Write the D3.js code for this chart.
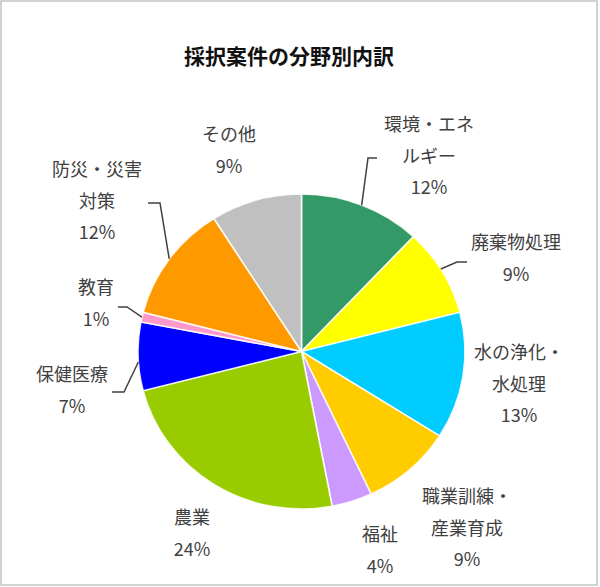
<!DOCTYPE html>
<html><head><meta charset="utf-8">
<script src="https://cdn.jsdelivr.net/npm/d3@7"></script>
<style>html,body{margin:0;padding:0;background:#fff;}</style>
</head><body>
<svg id="chart" width="600" height="587"></svg>
<script>
const title = "採択案件の分野別内訳";
const categories = ["環境・エネルギー","廃棄物処理","水の浄化・水処理","職業訓練・産業育成","福祉","農業","保健医療","教育","防災・災害対策","その他"];
const values = [12, 9, 13, 9, 4, 24, 7, 1, 12, 9];
const colors = ["#339966","#ffff00","#00ccff","#ffcc00","#cc99ff","#99cc00","#0000ff","#ff99cc","#ff9900","#c0c0c0"];
// label text lines (as shown in the chart)
const labelLines = [
  ["環境・エネ","ルギー"],
  ["廃棄物処理"],
  ["水の浄化・","水処理"],
  ["職業訓練・","産業育成"],
  ["福祉"],
  ["農業"],
  ["保健医療"],
  ["教育"],
  ["防災・災害","対策"],
  ["その他"]
];

const svg = d3.select("#chart");
svg.append("rect").attr("x",1).attr("y",1).attr("width",596).attr("height",584)
  .attr("fill","#fff").attr("stroke","#c4c4c4").attr("stroke-width",1.5);

svg.append("text").attr("x",289).attr("y",64).attr("text-anchor","middle")
  .attr("font-family","'Noto Sans CJK JP'").attr("font-weight","bold")
  .attr("font-size",21).attr("fill","#111").text(title);

const cx = 301.5, cy = 351.5, rx = 163.5, ry = 157.5;
const pie = d3.pie().sort(null).value(d => d)(values);
const arc = d3.arc().innerRadius(0).outerRadius(rx);
const g = svg.append("g").attr("transform", `translate(${cx},${cy}) scale(1,${ry/rx})`);
g.selectAll("path").data(pie).join("path")
  .attr("d", arc).attr("fill", (d,i) => colors[i])
  .attr("stroke", "#ffffff").attr("stroke-width", 1.6).attr("stroke-opacity",0.85);

// label placements (line center x, first line y)
const labelPos = [
  [429,125],[516,243],[519,353],[467,497],[380,535],[192,518],[72,375],[96,288],[97,170],[229,135]
];
const lineH = 31.5;
const lab = svg.append("g").attr("font-family","'Noto Sans CJK JP'").attr("font-size",18)
  .attr("fill","#404040").attr("text-anchor","middle");
const fmt = d3.format(".0%");
const total = d3.sum(values);
categories.forEach((c,i) => {
  const lines = labelLines[i].concat([fmt(values[i]/total)]);
  lines.forEach((t,j) => {
    lab.append("text").attr("x",labelPos[i][0]).attr("y",labelPos[i][1] + j*lineH)
      .attr("dy","0.35em").text(t);
  });
});

// leader lines: from label end to arc edge (edge point from arc angle)
function edge(i, frac) {
  const d = pie[i];
  const a = d.startAngle + (d.endAngle - d.startAngle) * frac;
  return [cx + rx*Math.sin(a), cy - ry*Math.cos(a)];
}
const leaders = [
  {i:0, pts:[[377,158],[368,158]], frac:0.5},
  {i:1, pts:[[467,262],[457,262]], frac:0.47},
  {i:6, pts:[[112,392],[124,392]], frac:0.42},
  {i:7, pts:[[118,307],[127,307]], frac:0.5},
  {i:8, pts:[[148,203],[160,203]], frac:0.5}
];
const line = d3.line();
leaders.forEach(l => {
  const p = l.pts.concat([edge(l.i, l.frac)]);
  svg.append("path").attr("d", line(p)).attr("fill","none")
    .attr("stroke","#404040").attr("stroke-width",1.5);
});
</script>
</body></html>
